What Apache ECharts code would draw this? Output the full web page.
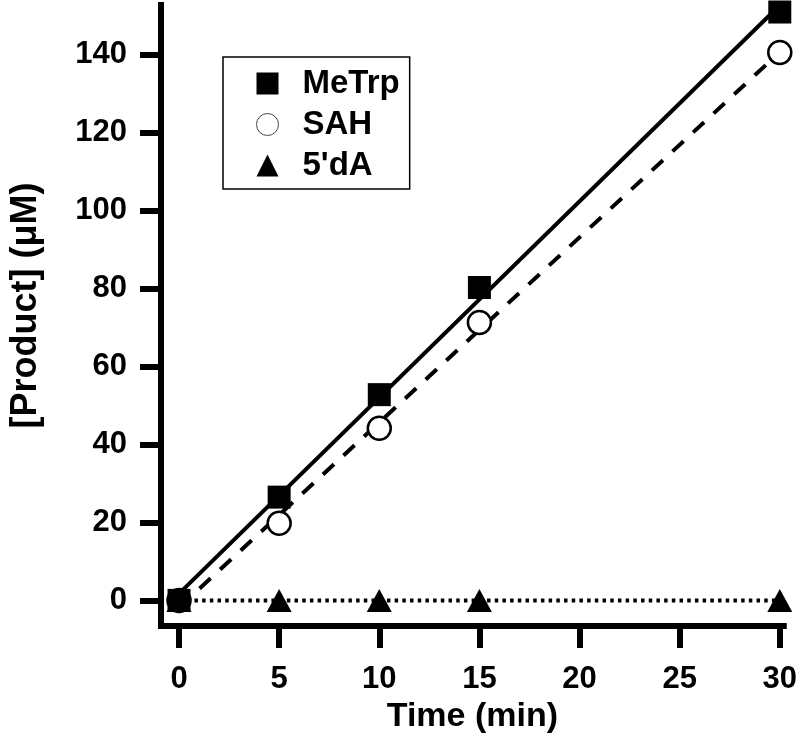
<!DOCTYPE html>
<html>
<head>
<meta charset="utf-8">
<script src="https://cdn.jsdelivr.net/npm/echarts@6/dist/echarts.min.js"></script>
<style>html,body{margin:0;padding:0;background:#fff}#c{width:800px;height:739px}</style>
</head>
<body>
<div id="c"></div>
<script>
// ---- data ----
const timeMin = [0, 5, 10, 15, 30];
const meTrp = [0, 26.5, 52.8, 80.3, 151];
const sah = [0, 19.8, 44.2, 71.3, 140.6];
const dA = [0, 0, 0, 0, 0];
const xTicks = [0, 5, 10, 15, 20, 25, 30];
const yTicks = [0, 20, 40, 60, 80, 100, 120, 140];

function fit(xs, ys) {
  const n = xs.length;
  const mx = xs.reduce((a, b) => a + b, 0) / n;
  const my = ys.reduce((a, b) => a + b, 0) / n;
  let sxy = 0, sxx = 0;
  for (let i = 0; i < n; i++) { sxy += (xs[i] - mx) * (ys[i] - my); sxx += (xs[i] - mx) ** 2; }
  const m = sxy / sxx, b = my - m * mx;
  const x0 = Math.min(...xs), x1 = Math.max(...xs);
  return [[x0, m * x0 + b], [x1, m * x1 + b]];
}
const pts = ys => timeMin.map((t, i) => [t, ys[i]]);

const FONT = 'Liberation Sans, Arial, sans-serif';
const chart = echarts.init(document.getElementById('c'), null, { renderer: 'canvas' });
chart.setOption({
  animation: false,
  grid: { left: 157, right: 14, top: 5, bottom: 109, containLabel: false },
  xAxis: {
    type: 'value', min: -0.9, max: 30.2,
    name: 'Time (min)', nameLocation: 'middle', nameGap: 66,
    nameTextStyle: { fontFamily: FONT, fontWeight: 'bold', fontSize: 34, color: '#000' },
    axisLine: { show: true, onZero: false, lineStyle: { color: '#000', width: 6, cap: 'square' } },
    axisTick: { show: true, length: 22, lineStyle: { color: '#000', width: 6 }, customValues: xTicks },
    axisLabel: { margin: 38, fontFamily: FONT, fontWeight: 'bold', fontSize: 31, color: '#000', customValues: xTicks },
    splitLine: { show: false }
  },
  yAxis: {
    type: 'value', min: -6.6, max: 152.8,
    name: '[Product] (μM)', nameLocation: 'middle', nameGap: 117,
    nameTextStyle: { fontFamily: FONT, fontWeight: 'bold', fontSize: 36, color: '#000', padding: [0, 0, 0, 20] },
    axisLine: { show: true, onZero: false, lineStyle: { color: '#000', width: 6, cap: 'square' } },
    axisTick: { show: true, length: 21, lineStyle: { color: '#000', width: 6 }, customValues: yTicks },
    axisLabel: { margin: 34, fontFamily: FONT, fontWeight: 'bold', fontSize: 31, color: '#000', customValues: yTicks },
    splitLine: { show: false }
  },
  legend: {
    orient: 'vertical', left: 223, top: 57,
    padding: [6, 10, 3, 33], itemGap: 0,
    itemWidth: 22, itemHeight: 22,
    borderColor: '#000', borderWidth: 1.5, backgroundColor: '#fff',
    textStyle: { fontFamily: FONT, fontWeight: 'bold', fontSize: 33, color: '#000', lineHeight: 41, padding: [0, 0, 0, 19] },
    data: [
      { name: 'MeTrp', icon: 'rect', itemStyle: { color: '#000', borderWidth: 0 } },
      { name: 'SAH', icon: 'circle', itemStyle: { color: '#fff', borderColor: '#444', borderWidth: 1 } },
      { name: '5\'dA', icon: 'triangle', itemStyle: { color: '#000', borderWidth: 0 } }
    ]
  },
  series: [
    { type: 'line', data: fit(timeMin, meTrp), symbol: 'none', lineStyle: { color: '#000', width: 4 }, z: 1, silent: true },
    { type: 'line', data: fit(timeMin, sah), symbol: 'none', lineStyle: { color: '#000', width: 4, type: [15, 13] }, z: 1, silent: true },
    { type: 'line', data: pts(dA), symbol: 'none', lineStyle: { color: '#000', width: 4, type: [3.5, 4.2] }, z: 1, silent: true },
    { name: 'SAH', type: 'scatter', data: pts(sah), symbol: 'circle', symbolSize: 23,
      itemStyle: { color: '#fff', borderColor: '#000', borderWidth: 2.5, opacity: 1 }, z: 3 },
    { name: 'MeTrp', type: 'scatter', data: pts(meTrp), symbol: 'rect', symbolSize: 23,
      itemStyle: { color: '#000', opacity: 1 }, z: 4 },
    { name: '5\'dA', type: 'scatter', data: pts(dA), symbol: 'triangle', symbolSize: [25, 23],
      itemStyle: { color: '#000', opacity: 1 }, z: 4 }
  ]
});
</script>
</body>
</html>
